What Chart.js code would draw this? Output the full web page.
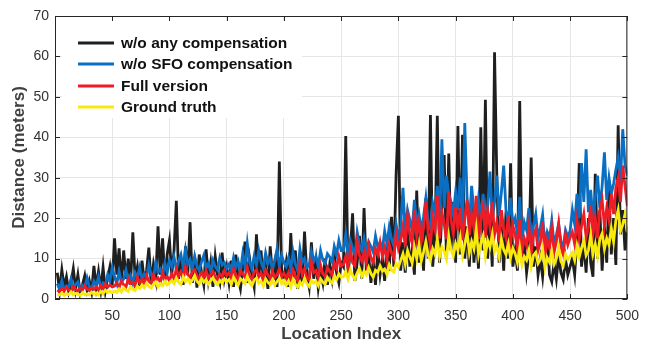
<!DOCTYPE html>
<html>
<head>
<meta charset="utf-8">
<script src="https://cdn.jsdelivr.net/npm/chart.js@4.4.1/dist/chart.umd.min.js"></script>
<style>
  html, body { margin: 0; padding: 0; background: #fff; }
  #wrap { width: 648px; height: 345px; position: relative; }
</style>
</head>
<body>
<div id="wrap"><canvas id="distChart"></canvas></div>
<script>
// location index, every second location 2..500
const locIndex = Array.from({ length: 250 }, (_, i) => 2 * i + 2);

const xTicks = [0, 50, 100, 150, 200, 250, 300, 350, 400, 450, 500];
const yTicks = [0, 10, 20, 30, 40, 50, 60, 70];

const noComp = [
  6.5,2.0,7.2,3.0,5.5,1.8,4.0,7.5,2.5,6.0, 1.5,3.5,5.8,2.2,4.5,1.8,8.2,3.0,6.8,2.4, 7.8,2.0,5.2,8.0,3.5,
  15.0,6.0,12.5,4.0,12.0,5.0,10.0,3.5,16.5,5.0, 8.0,3.0,9.5,4.5,7.0,12.7,3.8,8.5,5.0,18.0, 6.0,15.0,4.5,11.0,14.5,
  6.0,12.0,24.3,5.0,10.0,3.5,13.0,6.0,19.0,4.0, 9.0,2.8,11.0,6.5,3.5,12.3,5.0,9.0,3.0,10.5, 6.0,4.0,11.5,5.0,8.0,
  4.0,9.5,3.0,11.0,5.0,2.5,7.5,14.2,4.0,10.0, 6.0,3.0,16.0,5.5,12.0,3.5,8.0,2.5,13.0,6.0, 9.0,3.0,34.0,7.0,5.0,
  9.0,3.0,16.3,5.0,12.0,2.5,8.0,4.0,16.7,6.0, 3.0,14.0,5.0,9.5,2.8,7.0,4.0,10.0,3.5,8.5, 5.0,11.0,6.5,4.0,9.0,
  8.0,40.3,6.0,12.0,21.2,4.5,9.0,15.6,5.0,22.5, 7.0,11.0,4.0,9.5,3.5,12.0,6.0,10.0,4.5,13.5, 7.0,20.3,8.0,30.7,45.3,
  7.0,14.0,6.5,18.0,8.0,12.0,6.0,26.8,9.0,15.0, 7.0,25.0,10.0,45.5,8.0,16.0,45.3,9.0,22.0,35.6, 10.0,36.0,12.0,24.0,9.0,
  42.8,11.0,40.6,10.0,18.0,8.0,24.0,9.0,16.0,7.5, 42.5,12.0,49.3,10.0,20.0,8.0,61.0,30.0,9.0,18.0, 7.0,21.6,10.0,33.6,8.0,
  12.0,7.0,49.0,9.0,14.0,6.5,11.0,35.0,8.0,13.0, 6.0,10.0,5.5,12.0,16.7,6.0,4.3,9.0,5.0,11.0, 6.5,4.8,10.0,6.0,8.0,
  10.0,6.0,15.0,33.6,8.0,14.0,6.5,20.0,9.0,5.5, 31.0,10.0,22.0,7.0,18.0,9.0,27.0,11.0,20.0,8.4, 43.0,16.0,22.0,12.0,18.0
];

const noSfoComp = [
  3.8,2.5,4.5,2.2,3.2,2.8,5.0,2.6,3.6,4.2, 2.4,3.4,2.9,5.2,3.0,2.6,4.4,3.2,5.5,2.8, 4.0,3.4,6.0,4.5,7.8,
  5.5,3.8,6.8,4.2,5.0,7.2,4.4,5.8,3.9,6.5, 5.2,7.8,4.8,6.2,5.4,8.4,6.0,5.0,9.0,6.6, 7.4,5.8,8.8,6.4,9.6,
  8.0,10.4,7.2,9.5,11.0,7.8,12.2,8.6,9.8,7.4, 10.6,8.2,7.0,9.2,10.8,7.6,8.8,6.8,9.6,8.0, 7.2,10.2,8.4,9.0,7.5,
  8.6,7.0,10.2,7.8,9.4,6.8,11.2,8.0,13.8,9.0, 7.4,10.6,8.4,12.0,9.2,7.6,11.4,8.8,10.0,7.2, 9.6,12.4,8.2,10.8,9.0,
  8.0,10.2,7.4,11.6,8.6,7.0,12.4,9.0,10.0,7.8, 8.4,11.8,9.4,10.6,8.0,12.0,9.6,8.8,11.2,10.4, 9.2,13.0,11.0,14.5,12.0,
  12.0,16.0,11.0,14.5,12.6,10.8,16.5,13.4,12.0,15.0, 11.4,14.2,13.0,11.6,15.6,12.8,14.0,12.2,16.8,13.6, 17.8,14.8,13.2,18.5,15.0,
  18.0,27.5,16.5,22.0,19.5,17.0,24.5,18.5,21.0,16.8, 20.4,25.0,19.0,17.4,23.6,20.8,28.0,18.6,39.5,22.5, 30.5,26.0,24.0,21.0,26.5,
  22.0,30.0,18.0,43.5,25.0,19.0,28.0,21.5,17.6,24.5, 20.0,26.0,18.4,22.8,31.5,19.6,24.0,30.5,20.5,26.5, 33.0,22.0,19.0,25.0,18.5,
  20.0,16.0,25.3,14.5,19.0,17.0,22.5,14.0,18.0,21.0, 15.0,17.6,20.8,13.2,16.5,14.8,19.4,13.6,15.8,18.6, 14.2,12.8,17.0,15.4,16.8,
  22.0,18.5,26.0,20.0,33.6,24.0,37.0,21.5,27.0,19.5, 25.0,30.5,22.5,28.0,36.3,24.5,30.0,26.0,28.5,32.0, 35.0,29.0,42.0,33.0,30.5
];

const fullVersion = [
  2.2,1.8,2.6,2.0,2.9,2.3,1.9,3.1,2.4,2.0, 2.7,2.2,3.3,2.5,2.1,2.8,2.4,3.0,2.2,3.4, 2.6,3.8,2.9,3.5,3.0,
  3.2,4.0,2.8,4.5,3.5,3.0,5.0,3.8,4.2,3.3, 5.5,4.0,4.8,3.6,5.8,4.4,3.9,6.0,4.6,5.2, 4.1,6.5,5.0,5.6,4.5,
  6.2,5.0,7.5,5.6,6.8,5.2,7.9,6.0,5.4,6.6, 7.2,5.8,5.0,6.4,5.5,7.0,5.2,6.0,6.8,5.4, 4.8,6.2,5.6,7.0,5.8,
  6.5,5.2,7.4,5.8,4.8,7.0,6.2,5.4,7.8,5.6, 4.9,6.6,7.2,5.5,6.4,4.7,7.1,5.9,5.1,6.8, 5.3,6.0,7.5,5.5,6.4,
  5.2,6.6,4.8,7.2,5.6,4.5,8.8,6.0,7.4,5.3, 4.7,9.2,6.5,7.0,5.2,8.4,6.2,5.5,7.8,6.8, 6.0,9.0,7.6,10.5,8.2,
  8.5,10.5,7.8,12.0,9.0,8.2,14.2,10.8,9.4,11.6, 8.8,13.0,10.2,9.0,12.4,11.0,14.0,10.6,12.8,9.6, 13.5,11.4,10.2,16.0,12.5,
  14.5,18.0,13.0,20.5,16.0,13.8,22.0,15.5,19.0,14.2, 17.6,24.0,16.4,13.6,20.0,17.2,25.5,15.0,21.5,18.5, 14.8,26.5,19.5,16.2,22.8,
  17.0,22.5,14.5,20.0,24.5,15.8,21.0,17.5,25.5,14.8, 19.6,23.0,15.2,21.8,17.8,24.0,16.0,19.0,14.2,22.0, 17.2,15.0,20.5,13.8,18.2,
  16.0,12.5,19.5,11.8,15.0,13.2,18.0,11.2,15.6,17.2, 12.0,14.0,19.0,10.8,14.6,12.6,17.5,11.5,14.2,18.6, 12.8,11.0,16.0,13.4,15.2,
  16.5,13.6,19.5,14.8,18.0,21.0,15.2,17.6,23.0,16.0, 20.0,15.0,22.0,24.5,18.0,22.5,19.5,26.0,21.0,27.5, 30.0,24.0,33.0,28.0,23.0
];

const groundTruth = [
  1.2,1.0,1.5,0.9,1.3,1.1,1.8,1.0,1.4,1.2, 0.9,1.6,1.1,1.3,1.0,1.7,1.2,1.5,1.0,1.9, 1.3,2.2,1.6,2.0,1.5,
  2.0,1.6,2.5,1.8,2.8,2.2,1.9,3.0,2.4,2.1, 3.2,2.6,3.5,2.8,3.9,3.1,2.7,3.6,4.2,3.0, 3.8,3.3,4.4,3.5,4.0,
  4.6,3.8,5.2,4.1,3.6,5.5,4.3,5.0,3.9,4.7, 5.8,4.4,3.8,5.1,4.2,4.8,3.7,4.5,5.3,4.0, 3.5,4.6,3.9,5.0,4.3,
  4.8,3.6,5.4,4.2,3.4,5.0,4.5,3.8,5.6,4.0, 3.3,4.7,5.2,3.9,4.4,3.2,5.0,4.1,3.6,4.8, 3.5,4.3,5.1,3.8,4.6,
  3.4,4.5,3.0,4.9,3.7,2.9,4.2,3.5,5.1,3.8, 3.1,4.6,3.9,4.4,3.3,5.0,4.2,3.6,5.3,4.4, 4.0,5.6,4.8,6.2,5.4,
  5.5,6.8,5.0,7.2,5.8,4.9,6.5,7.6,5.6,6.9, 6.0,7.8,6.3,5.4,7.1,6.6,8.2,6.9,7.4,6.1, 8.5,7.2,6.7,8.8,7.9,
  9.5,11.2,8.6,12.0,10.3,8.9,12.8,10.0,13.5,9.4, 11.6,14.2,10.8,9.6,12.4,11.0,14.8,10.5,13.0,11.8, 9.9,15.5,12.2,10.6,13.7,
  12.0,15.2,10.8,13.6,16.4,11.5,14.2,12.4,17.2,11.0, 13.8,15.6,10.6,14.5,12.8,16.0,11.8,13.2,10.4,14.9, 12.2,11.0,13.6,10.2,12.5,
  11.2,9.0,12.6,8.4,10.5,9.6,12.0,8.0,10.8,11.5, 8.8,9.8,12.4,7.8,10.2,9.1,11.8,8.6,10.0,12.8, 9.3,8.2,11.0,9.7,10.6,
  11.5,9.6,13.2,10.4,12.6,14.5,10.8,12.0,15.8,11.2, 13.6,10.5,14.8,16.2,12.4,15.0,13.4,17.5,14.2,19.5, 22.0,16.8,18.4,21.0,16.5
];

const seriesNames = ['w/o any compensation', 'w/o SFO compensation', 'Full version', 'Ground truth'];
const seriesColors = ['#1f1f1f', '#0a6fc2', '#ee1c25', '#f7ea0c'];
const seriesValues = [noComp, noSfoComp, fullVersion, groundTruth];

const FONT = "'Liberation Sans', Arial, Helvetica, sans-serif";

// axes box, inward ticks and the inner legend (MATLAB look)
const matlabFrame = {
  id: 'matlabFrame',
  afterDatasetsDraw(chart) {
    const ctx = chart.ctx;
    const a = chart.chartArea;
    const xs = chart.scales.x, ys = chart.scales.y;
    ctx.save();

    // legend
    ctx.fillStyle = '#ffffff';
    ctx.fillRect(62, 21, 240, 97);
    const rowY = [43, 64, 86, 107];
    ctx.font = 'bold 15.5px ' + FONT;
    ctx.textBaseline = 'middle';
    chart.data.datasets.forEach((ds, i) => {
      ctx.strokeStyle = ds.borderColor;
      ctx.lineWidth = 2.8;
      ctx.beginPath();
      ctx.moveTo(78, rowY[i]);
      ctx.lineTo(114, rowY[i]);
      ctx.stroke();
      ctx.fillStyle = '#111';
      ctx.fillText(ds.label, 121, rowY[i] + 1);
    });

    // box + inward ticks
    ctx.strokeStyle = '#262626';
    ctx.lineWidth = 1;
    ctx.strokeRect(a.left + 0.5, a.top + 0.5, a.right - a.left - 1, a.bottom - a.top - 1);
    ctx.beginPath();
    xTicks.forEach(v => {
      const px = Math.round(xs.getPixelForValue(v)) + 0.5;
      ctx.moveTo(px, a.bottom); ctx.lineTo(px, a.bottom - 5);
      ctx.moveTo(px, a.top); ctx.lineTo(px, a.top + 5);
    });
    yTicks.forEach(v => {
      const py = Math.round(ys.getPixelForValue(v)) + 0.5;
      ctx.moveTo(a.left, py); ctx.lineTo(a.left + 5, py);
      ctx.moveTo(a.right, py); ctx.lineTo(a.right - 5, py);
    });
    ctx.stroke();
    ctx.restore();
  }
};

const ctx = document.getElementById('distChart').getContext('2d');
const distChart = new Chart(ctx, {
  type: 'line',
  data: {
    datasets: seriesNames.map((name, i) => ({
      label: name,
      data: locIndex.map((x, j) => ({ x: x, y: seriesValues[i][j] })),
      borderColor: seriesColors[i],
      backgroundColor: seriesColors[i],
      borderWidth: 2.8,
      pointRadius: 0,
      tension: 0,
      order: 4 - i
    }))
  },
  options: {
    responsive: true,
    maintainAspectRatio: false,
    animation: false,
    layout: { padding: { top: 16, right: 11, left: 0, bottom: 0 } },
    plugins: {
      legend: { display: false },
      tooltip: { enabled: false }
    },
    scales: {
      x: {
        type: 'linear',
        min: 0,
        max: 500,
        afterBuildTicks: s => { s.ticks = xTicks.map(v => ({ value: v })); },
        afterFit: s => { s.height = 46; },
        ticks: {
          autoSkip: false,
          maxRotation: 0,
          padding: 9,
          color: '#333',
          font: { family: FONT, size: 14 },
          callback: v => (v === 0 ? '' : v)
        },
        grid: { color: '#e6e6e6', drawTicks: false },
        border: { display: false },
        title: {
          display: true,
          text: 'Location Index',
          color: '#404040',
          font: { family: FONT, size: 17, weight: 'bold' },
          padding: { top: 0, bottom: 0 }
        }
      },
      y: {
        min: 0,
        max: 70,
        afterBuildTicks: s => { s.ticks = yTicks.map(v => ({ value: v })); },
        afterFit: s => { s.width = 55; },
        ticks: {
          padding: 6,
          color: '#333',
          font: { family: FONT, size: 14 }
        },
        grid: { color: '#e6e6e6', drawTicks: false },
        border: { display: false },
        title: {
          display: true,
          text: 'Distance (meters)',
          color: '#404040',
          font: { family: FONT, size: 17, weight: 'bold' },
          padding: { top: 9, bottom: 0 }
        }
      }
    }
  },
  plugins: [matlabFrame]
});
</script>
</body>
</html>
